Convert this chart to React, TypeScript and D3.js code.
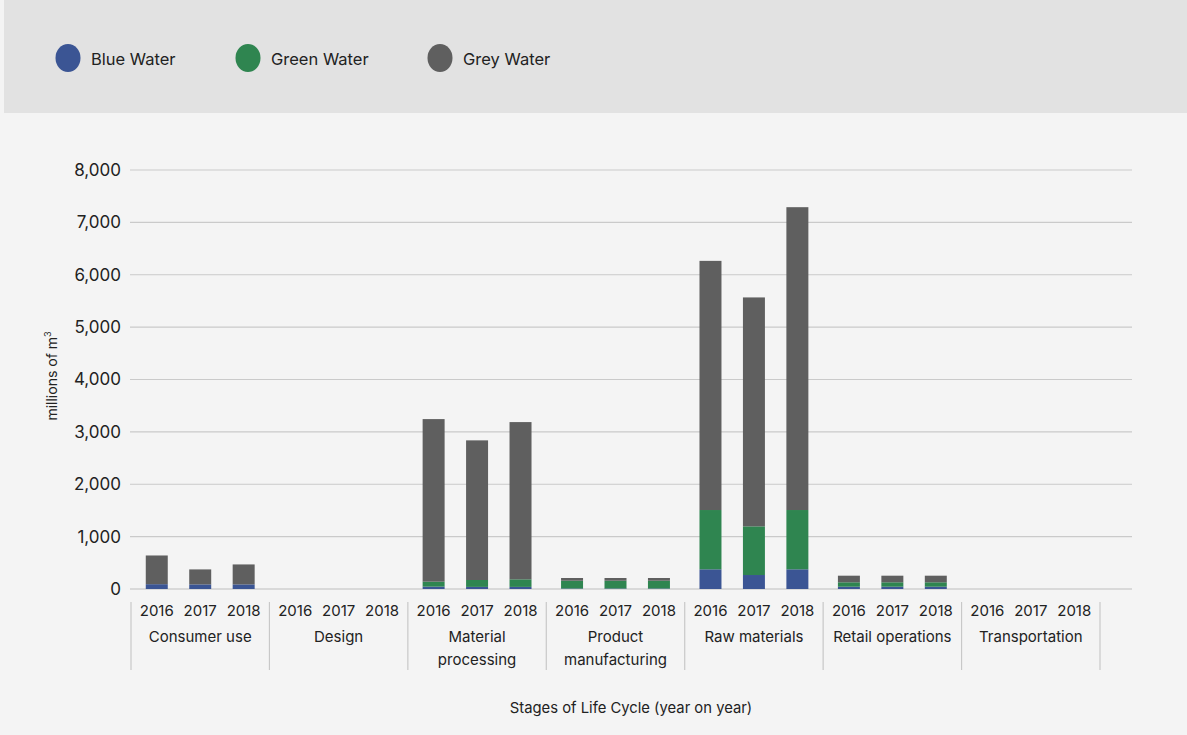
import React from "react";
import * as d3 from "d3";

const stages = ["Consumer use", "Design", "Material processing", "Product manufacturing", "Raw materials", "Retail operations", "Transportation"];
const stageLines: string[][] = [["Consumer use"], ["Design"], ["Material", "processing"], ["Product", "manufacturing"], ["Raw materials"], ["Retail operations"], ["Transportation"]];
const years = ["2016", "2017", "2018"];
const seriesNames = ["Blue Water", "Green Water", "Grey Water"];
const seriesColors = ["#3b5594", "#2f8550", "#5f5f5f"];

// values in millions of m3, order: stage x year
const blueWater = [
  [92, 88, 88],
  [0, 0, 0],
  [45, 40, 40],
  [10, 10, 10],
  [376, 267, 376],
  [44, 44, 44],
  [0, 0, 0],
];
const greenWater = [
  [0, 0, 0],
  [0, 0, 0],
  [95, 132, 145],
  [148, 148, 148],
  [1132, 929, 1132],
  [84, 84, 84],
  [0, 0, 0],
];
const greyWater = [
  [548, 286, 381],
  [0, 0, 0],
  [3104, 2666, 3002],
  [52, 52, 52],
  [4757, 4371, 5782],
  [126, 126, 126],
  [0, 0, 0],
];
const yTicks = [0, 1000, 2000, 3000, 4000, 5000, 6000, 7000, 8000];

const W = 1187;
const H = 735;
const FONT = "Inter, 'Noto Sans', sans-serif";

export default function App() {
  const rows = stages.flatMap((s, i) =>
    years.map((y, j) => ({ stage: s, year: y, "Blue Water": blueWater[i][j], "Green Water": greenWater[i][j], "Grey Water": greyWater[i][j] }))
  );
  const stack = d3.stack<any>().keys(seriesNames)(rows);

  const y = d3.scaleLinear().domain([0, 8000]).range([589, 170]);
  const x0 = d3.scaleBand().domain(stages).range([131, 1100]).padding(0);
  const x1 = d3.scaleBand().domain(years).range([0, x0.bandwidth()]).paddingInner(0.494).paddingOuter(0.34);
  const fmt = d3.format(",");

  return (
    <svg width={W} height={H} style={{ display: "block", position: "absolute", left: 0, top: 0 }} fontFamily={FONT}>
      <rect x={0} y={0} width={W} height={H} fill="#f4f4f4" />
      <rect x={4} y={0} width={W - 4} height={113} fill="#e2e2e2" />
      {/* legend */}
      {seriesNames.map((n, i) => {
        const cx = [68, 248, 440][i];
        return (
          <g key={n}>
            <ellipse cx={cx} cy={58} rx={12.5} ry={14} fill={seriesColors[i]} />
            <text x={cx + 23} y={65} fontSize={16.5} fill="#222">{n}</text>
          </g>
        );
      })}
      {/* gridlines */}
      {yTicks.map((t) => (
        <g key={t}>
          <line x1={130} x2={1132} y1={y(t)} y2={y(t)} stroke={t === 0 ? "#bdbdbd" : "#cacaca"} strokeWidth={1.2} />
          <text x={121} y={y(t)} dy="0.35em" textAnchor="end" fontSize={17} fill="#222">{fmt(t)}</text>
        </g>
      ))}
      <text transform={`translate(57,376) rotate(-90)`} textAnchor="middle" fontSize={14} fill="#222">
        millions of m<tspan dy={-6} fontSize={9}>3</tspan>
      </text>
      {/* bars */}
      {stack.map((layer, si) => (
        <g key={layer.key} fill={seriesColors[si]}>
          {layer.map((d: any, k: number) => {
            const r = rows[k];
            const h = y(d[0]) - y(d[1]);
            if (h <= 0) return null;
            return (
              <rect key={k} x={(x0(r.stage) as number) + (x1(r.year) as number)} y={y(d[1])} width={x1.bandwidth()} height={h} />
            );
          })}
        </g>
      ))}
      {/* x axis labels */}
      {stages.map((s, i) => {
        const gx = x0(s) as number;
        const cx = gx + x0.bandwidth() / 2;
        return (
          <g key={s}>
            {years.map((yr) => (
              <text key={yr} x={gx + (x1(yr) as number) + x1.bandwidth() / 2} y={616} textAnchor="middle" fontSize={15} fill="#222">{yr}</text>
            ))}
            {stageLines[i].map((ln, li) => (
              <text key={li} x={cx} y={642 + li * 23} textAnchor="middle" fontSize={15} fill="#222">{ln}</text>
            ))}
          </g>
        );
      })}
      {[...stages.map((s) => x0(s) as number), 1100].map((sx, i) => (
        <line key={i} x1={sx} x2={sx} y1={602} y2={670} stroke="#c8c8c8" strokeWidth={1.2} />
      ))}
      <text x={631} y={713} textAnchor="middle" fontSize={14.8} fill="#222">Stages of Life Cycle (year on year)</text>
    </svg>
  );
}
